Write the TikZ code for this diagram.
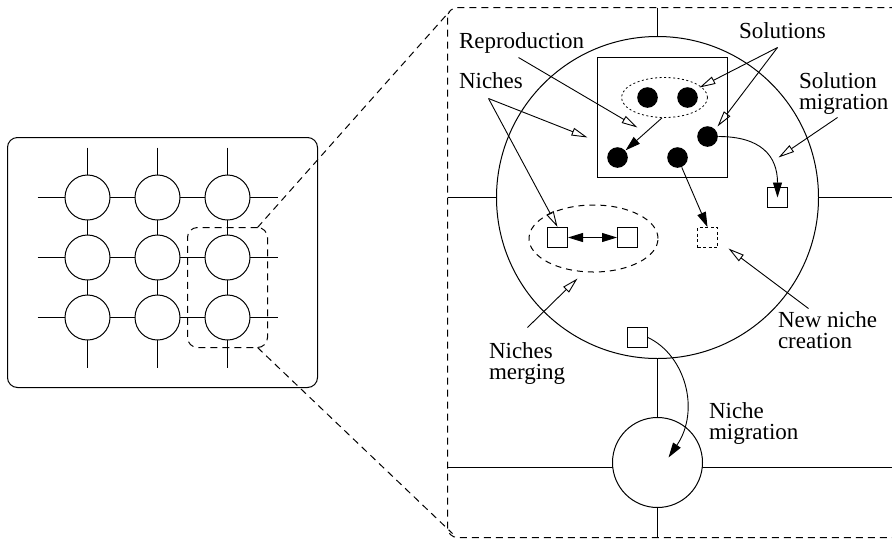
\documentclass[tikz,border=0pt]{standalone}
\usepackage{fontspec}
\setmainfont{Liberation Serif}
\usetikzlibrary{arrows.meta,shapes.geometric}
\begin{document}
\begin{tikzpicture}[x=1pt,y=-1pt,line width=1pt,
  lbl/.style={font=\fontsize{23}{19.5}\selectfont,anchor=base west,inner sep=0pt},
  cellc/.style={circle,draw,fill=white,inner sep=0pt},
  soldot/.style={circle,fill=black,minimum size=20.6pt,inner sep=0pt},
  sq/.style={draw,fill=white,minimum size=20pt,inner sep=0pt},
  dsh/.style={dash pattern=on 7pt off 5pt},
  dotline/.style={dash pattern=on 2pt off 2.5pt,line width=0.8pt},
  hol/.style={-{Triangle[open,length=16pt,width=8pt]},line width=0.9pt},
  sol/.style={-{Triangle[length=15pt,width=9pt]},line width=0.9pt},
  dsol/.style={{Triangle[length=15pt,width=9pt]}-{Triangle[length=15pt,width=9pt]},line width=0.9pt}]
\useasboundingbox (0,0) rectangle (892,539);
\begin{scope}[shift={(0.5,0.5)}]

% ---------- left panel: grid of cells ----------
\draw[rounded corners=10pt] (7,137) rectangle (317,387);
\foreach \y in {197,257,317} \draw (37,\y) -- (277,\y);
\foreach \x in {87,157,227} \draw (\x,147) -- (\x,367);
\foreach \x in {87,157,227}
  \foreach \y in {197,257,317}
    \node[cellc,minimum size=45pt] (c-\x-\y) at (\x,\y) {};
\node[draw,dsh,rounded corners=10pt,minimum width=80pt,minimum height=120pt,inner sep=0pt] (sel) at (227,287) {};

% ---------- zoom lines ----------
\coordinate (zt1) at (257,227);
\coordinate (zt2) at (449,11);
\coordinate (zb1) at (257,347);
\coordinate (zb2) at (452,533);
\draw[dsh] (zt1) -- (zt2);
\draw[dsh] (zb1) -- (zb2);

% ---------- right panel frame ----------
\begin{scope}
  \clip (-1,-1) rectangle (892,539);
  \draw[dsh,rounded corners=10pt] (447,7) rectangle (903,537);
\end{scope}

% grid links
\draw (657,7) -- (657,537);
\draw (447,197) -- (892,197);
\draw (447,467) -- (892,467);

% cells
\node[cellc,minimum size=322pt] (cell) at (657,197) {};
\node[cellc,minimum size=90pt] (next) at (657,462) {};

% population square
\node[draw,minimum width=130pt,minimum height=120pt,inner sep=0pt] (pop) at (662,117) {};
\node[ellipse,draw,dotline,minimum width=86pt,minimum height=40pt,inner sep=0pt] (pair) at (664,97) {};
\node[soldot] (d1) at (647,97) {};
\node[soldot] (d2) at (687,97) {};
\node[soldot] (d3) at (707,136) {};
\node[soldot] (d4) at (617,157) {};
\node[soldot] (d5) at (677,157) {};

% niches
\node[ellipse,draw,dash pattern=on 6pt off 5pt,minimum width=129pt,minimum height=67pt,inner sep=0pt] (merge) at (593,238) {};
\node[sq] (m1) at (557,237) {};
\node[sq] (m2) at (627,237) {};
\node[sq,dash pattern=on 3pt off 2.5pt,line width=0.8pt] (ns) at (707,237) {};
\node[sq] (s1) at (777,197) {};
\node[sq] (nm) at (637,337) {};
\coordinate (mig) at (668,457);

% solid arrows
\draw[sol] (pair.263) -- (d4);
\draw[sol] (d5) -- (ns.north);
\draw[dsol] (m1) -- (m2);
\draw[sol] (d3.east) .. controls (760,136) and (777,155) .. (s1.center);
\draw[sol] (nm.east) .. controls (685,355) and (700,410) .. (mig);

% labels
\node[lbl] (lrep) at (458,48) {Reproduction};
\node[lbl] (lnich) at (458,88) {Niches};
\node[lbl] (lsol) at (738,38) {Solutions};
\node[lbl] (lsm) at (798,88) {\begin{tabular}[t]{@{}l@{}}Solution\\migration\end{tabular}};
\node[lbl] (lnn) at (777,327) {\begin{tabular}[t]{@{}l@{}}New niche\\creation\end{tabular}};
\node[lbl] (lmer) at (488,358) {\begin{tabular}[t]{@{}l@{}}Niches\\merging\end{tabular}};
\node[lbl] (lmig) at (708,418) {\begin{tabular}[t]{@{}l@{}}Niche\\migration\end{tabular}};

% hollow arrows from labels
\coordinate (hrep) at (518,57);
\coordinate (hrepT) at (637,127);
\coordinate (hni) at (488,98);
\coordinate (hniT) at (587,137);
\coordinate (hso) at (777,47);
\coordinate (hsoT) at (699,87);
\coordinate (hsoU) at (717,126);
\coordinate (hsm) at (837,117);
\coordinate (hsmT) at (778,157);
\coordinate (hnn) at (808,308);
\coordinate (hnnT) at (728,248);
\coordinate (hme) at (527,327);
\coordinate (hmeT) at (577,278);
\draw[hol] (hrep) -- (hrepT);
\draw[hol] (hni) -- (hniT);
\draw[hol] (hni) -- (m1.north);
\draw[hol] (hso) -- (hsoT);
\draw[hol] (hso) -- (hsoU);
\draw[hol] (hsm) -- (hsmT);
\draw[hol] (hnn) -- (hnnT);
\draw[hol] (hme) -- (hmeT);
\end{scope}
\end{tikzpicture}
\end{document}
